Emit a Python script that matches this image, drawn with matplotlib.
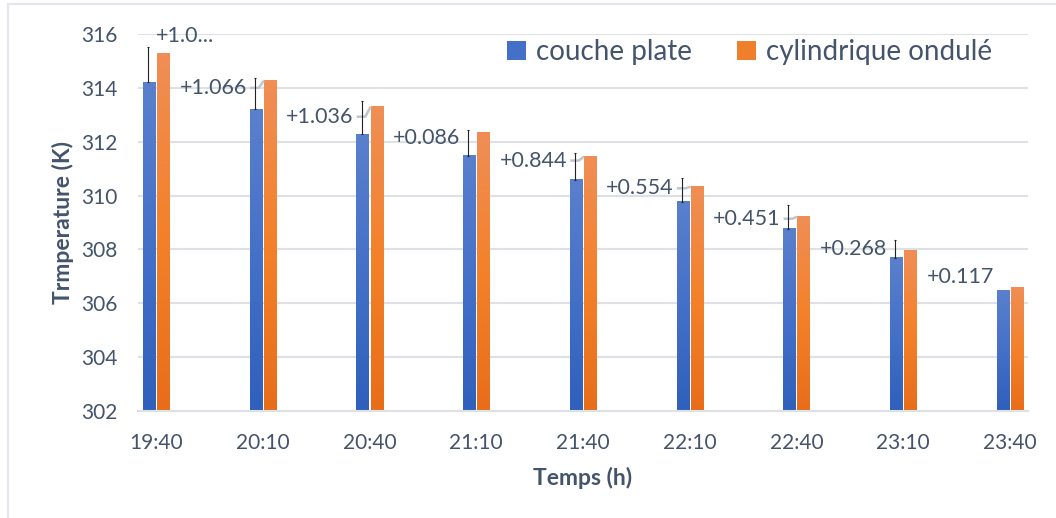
import numpy as np
import matplotlib
matplotlib.use('Agg')
from matplotlib import pyplot as plt
from matplotlib.colors import LinearSegmentedColormap
from matplotlib.patches import Patch
from matplotlib.lines import Line2D

# data
times = ['19:40', '20:10', '20:40', '21:10', '21:40', '22:10', '22:40', '23:10', '23:40']
couche_plate = [314.20, 313.20, 312.27, 311.48, 310.59, 309.77, 308.77, 307.69, 306.46]
cyl_ondule = [315.29, 314.27, 313.30, 312.34, 311.45, 310.33, 309.22, 307.95, 306.58]
diff_labels = ['+1.0...', '+1.066', '+1.036', '+0.086', '+0.844', '+0.554', '+0.451', '+0.268', '+0.117']
err_high = [315.50, 314.35, 313.53, 312.44, 311.57, 310.67, 309.65, 308.35, None]
has_leader = [False, True, True, False, True, True, True, False, False]

TXT = '#44546a'
plt.rcParams['font.family'] = ['Lato', 'DejaVu Sans']

fig = plt.figure(figsize=(10.56, 5.18), dpi=100)
ax = fig.add_axes([138 / 1056, 1 - 411 / 518, 890 / 1056, 377 / 518])

blue_cmap = LinearSegmentedColormap.from_list('b', ['#2f60bb', '#4470c8', '#5a80cd'])
orange_cmap = LinearSegmentedColormap.from_list('o', ['#e86d1a', '#f4812a', '#ef8e55'])
grad = np.linspace(0, 1, 100).reshape(-1, 1)

ymin, ymax = 302, 316
w = 0.113
off = 0.066


def grad_bar(x, top, cmap):
    ax.imshow(grad, extent=(x - w / 2, x + w / 2, ymin, top), origin='lower',
              cmap=cmap, aspect='auto', zorder=2, interpolation='bicubic')


x = np.arange(len(times))
for i in x:
    grad_bar(i - off, couche_plate[i], blue_cmap)
    grad_bar(i + off, cyl_ondule[i], orange_cmap)

# data labels on the difference, left of each pair
label_dy = [0.62, -0.27, -0.37, -0.19, -0.15, -0.06, -0.08, 0.05, 0.38]
for i in x:
    ly = cyl_ondule[i] + label_dy[i]
    if i == 0:
        ax.text(i - 0.005, ly, diff_labels[i], ha='left', va='center',
                fontsize=15.5, color=TXT, zorder=5)
    else:
        ax.text(i - 0.15, ly, diff_labels[i], ha='right', va='center',
                fontsize=15.5, color=TXT, zorder=5)
    if has_leader[i]:
        ax.plot([i - 0.12, i - 0.04, i + 0.01], [ly, ly, cyl_ondule[i]],
                color='#bfc5cf', lw=1.8, zorder=4, solid_capstyle='butt')

# thin black bars from blue top up to the read high mark
for i in x:
    if err_high[i] is None:
        continue
    ax.errorbar(i - 0.075, couche_plate[i],
                yerr=[[0], [err_high[i] - couche_plate[i]]],
                fmt='none', ecolor='#222222', elinewidth=0.8, capsize=1.0,
                capthick=0.8, zorder=6)

ax.set_xlim(-0.17, len(times) - 1 + 0.17)
ax.set_ylim(ymin, ymax)
ax.set_yticks(np.arange(302, 317, 2))
ax.set_xticks(x)
ax.set_xticklabels(times)
ax.yaxis.grid(True, color='#dde1e6', lw=1.5, zorder=0)
ax.set_axisbelow(True)
for s in ['top', 'right', 'left']:
    ax.spines[s].set_visible(False)
ax.spines['bottom'].set_color('#dde1e6')
ax.spines['bottom'].set_linewidth(1.5)
ax.tick_params(axis='both', length=0, labelsize=15, colors=TXT)
ax.tick_params(axis='y', pad=15)
ax.tick_params(axis='x', pad=16)

ax.set_xlabel('Temps (h)', fontsize=16.5, fontweight='bold', color=TXT, labelpad=10)
ax.set_ylabel('Trmperature (K)', fontsize=16.5, fontweight='bold', color=TXT, labelpad=5)

handles = [Patch(facecolor='#4470c8', edgecolor='none', label='couche plate'),
           Patch(facecolor='#f07f2c', edgecolor='none', label='cylindrique ondulé')]
leg = ax.legend(handles=handles, loc='center', bbox_to_anchor=(0.687, 0.952), ncol=2,
                frameon=False, fontsize=20, handlelength=0.7, handleheight=0.7,
                handletextpad=0.35, columnspacing=1.6, labelcolor=TXT)

# chart area border (left and top visible)
fig.add_artist(Line2D([8 / 1056, 8 / 1056], [0, 1 - 4 / 518], color='#e3e6ea', lw=1.5))
fig.add_artist(Line2D([8 / 1056, 1], [1 - 4 / 518, 1 - 4 / 518], color='#e3e6ea', lw=1.5))

fig.savefig('out.png', dpi=100)
